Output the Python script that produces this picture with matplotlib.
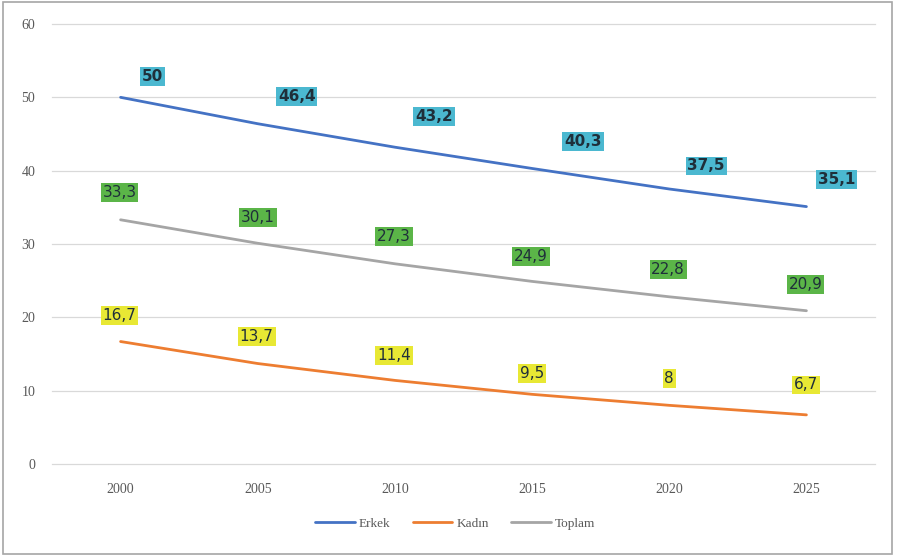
import matplotlib.pyplot as plt
from matplotlib.patches import Rectangle

years = [2000, 2005, 2010, 2015, 2020, 2025]
erkek = [50, 46.4, 43.2, 40.3, 37.5, 35.1]
kadin = [16.7, 13.7, 11.4, 9.5, 8, 6.7]
toplam = [33.3, 30.1, 27.3, 24.9, 22.8, 20.9]
erkek_text = ["50", "46,4", "43,2", "40,3", "37,5", "35,1"]
kadin_text = ["16,7", "13,7", "11,4", "9,5", "8", "6,7"]
toplam_text = ["33,3", "30,1", "27,3", "24,9", "22,8", "20,9"]

# label offsets (pixels) as placed in the original chart
erkek_off = [(32, 21), (39, 27), (39, 31), (51, 27), (37, 23), (30, 27)]
toplam_off = [(-1, 27), (0, 26), (-1, 27), (-1, 25), (-1, 27), (-1, 26)]
kadin_off = [(-1, 26), (-1, 27), (-1, 25), (0, 21), (0, 27), (0, 30)]

fig = plt.figure(figsize=(9.04, 5.56), dpi=100)
ax = fig.add_axes([52 / 904, 1 - 464 / 556, 823 / 904, 440 / 556])

x = list(range(len(years)))
ax.plot(x, erkek, color="#4472C4", lw=2.0, label="Erkek", solid_capstyle="round")
ax.plot(x, kadin, color="#ED7D31", lw=2.0, label="Kadın", solid_capstyle="round")
ax.plot(x, toplam, color="#A5A5A5", lw=2.0, label="Toplam", solid_capstyle="round")

series = [
    (erkek, erkek_text, erkek_off, "#4BB8D0", "bold"),
    (toplam, toplam_text, toplam_off, "#5BB548", "normal"),
    (kadin, kadin_text, kadin_off, "#E8E834", "normal"),
]
for vals, texts, offs, bg, weight in series:
    for i, (v, t, o) in enumerate(zip(vals, texts, offs)):
        ax.annotate(t, (i, v), xytext=o, textcoords="offset pixels",
                    ha="center", va="center", fontsize=11, fontweight=weight,
                    color="#1F2F3A", family="DejaVu Sans",
                    bbox=dict(boxstyle="square,pad=0.12", fc=bg, ec="none"))

ax.set_xlim(-0.5, len(years) - 0.5)
ax.set_ylim(0, 60)
ax.set_yticks(range(0, 61, 10))
ax.set_xticks(x)
ax.set_xticklabels([str(y) for y in years])
ax.grid(axis="y", color="#D9D9D9", lw=0.9)
ax.set_axisbelow(True)
for gl in ax.get_ygridlines():
    gl.set_clip_on(False)
for s in ax.spines.values():
    s.set_visible(False)
ax.tick_params(length=0, colors="#595959", labelsize=10)
ax.tick_params(axis="y", pad=12)
ax.tick_params(axis="x", pad=14)
for lab in ax.get_xticklabels() + ax.get_yticklabels():
    lab.set_family("Liberation Serif")

leg = ax.legend(loc="center", bbox_to_anchor=(0.49, -0.135), ncol=3, frameon=False,
                prop={"family": "Liberation Serif", "size": 9.5},
                handlelength=3.0, columnspacing=1.7, handletextpad=0.3)
for t in leg.get_texts():
    t.set_color("#595959")

fig.patches.append(Rectangle((3 / 904, 2 / 556), 889 / 904, 552 / 556,
                             transform=fig.transFigure, fill=False,
                             ec="#A6A6A6", lw=1.2))

fig.savefig("out.png", dpi=100)
